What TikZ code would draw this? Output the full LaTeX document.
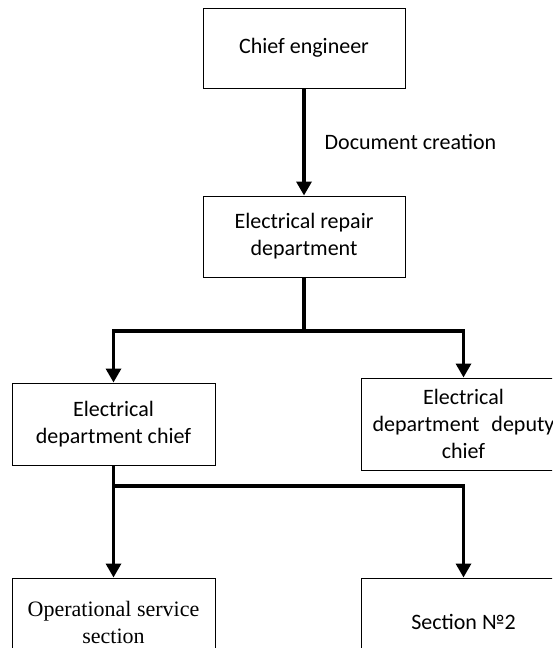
\documentclass[tikz,border=0pt]{standalone}
\usepackage{fontspec}
\setmainfont{Carlito}
\newfontfamily\timesfont{Liberation Serif}
\usetikzlibrary{arrows.meta}

\tikzset{
  unitbox/.style={draw=black, line width=1pt, fill=white, align=center,
    inner sep=2pt, font=\fontsize{22}{27}\selectfont},
  link/.style={line width=3.3pt, line join=miter},
  flow/.style={link, -{Triangle[length=14pt,width=15pt]}},
  caption/.style={font=\fontsize{22}{27}\selectfont, inner sep=0pt}
}

\begin{document}
\begin{tikzpicture}[x=1pt, y=-1pt]
  \useasboundingbox (0,0) rectangle (552,648);
  \clip (0,0) rectangle (552,648);
  \fill[white] (0,0) rectangle (552,648);

  % top of the hierarchy
  \node[unitbox, minimum width=202pt, minimum height=80pt] (chief) at (304,48) {Chief engineer};
  \node[unitbox, minimum width=202pt, minimum height=81pt] (repair) at (304,236.5)
    {Electrical repair\\department};

  % second level
  \node[unitbox, minimum width=203pt, minimum height=82pt] (head) at (113.5,424)
    {Electrical\\department chief};
  \node[unitbox, minimum width=205pt, minimum height=92pt] (deputy) at (463.5,424)
    {Electrical\\department\hspace{12pt}deputy\\chief};

  % sections
  \node[unitbox, minimum width=203pt, minimum height=88pt] (ops) at (113.5,622)
    {\timesfont Operational service\\\timesfont section};
  \node[unitbox, minimum width=205pt, minimum height=88pt] (sec) at (463.5,622)
    {Section №2};

  % junction points of the branch lines
  \coordinate (j1) at (304,331);
  \coordinate (j2) at (113.5,486);

  % connectors
  \draw[flow] (chief.south) -- node[caption, right=19pt, anchor=west] {Document creation} (repair.north);
  \draw[link] (repair.south) -- (j1);
  \draw[flow] (j1) -| (head.north);
  \draw[flow] (j1) -| (deputy.north);
  \draw[link] (head.south) -- (j2);
  \draw[flow] (j2) -- (ops.north);
  \draw[flow] (j2) -| (sec.north);
\end{tikzpicture}
\end{document}
